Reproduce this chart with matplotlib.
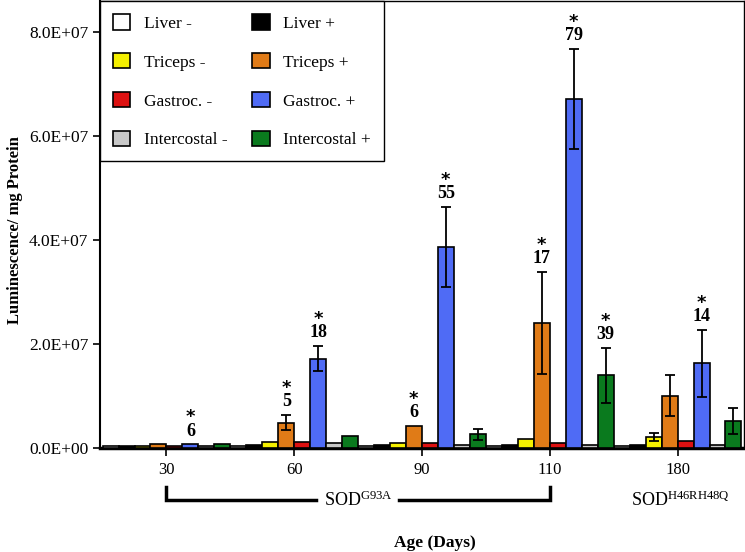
import matplotlib
matplotlib.use('Agg')
import matplotlib.pyplot as plt
import numpy as np
from matplotlib.ticker import FuncFormatter

plt.rcParams['font.family'] = 'Liberation Serif'
plt.rcParams['mathtext.fontset'] = 'custom'
plt.rcParams['mathtext.rm'] = 'Liberation Serif'
plt.rcParams['mathtext.it'] = 'Liberation Serif:italic'
plt.rcParams['mathtext.bf'] = 'DejaVu Sans:bold'

# Dados (valores em luminescência / mg proteína)
idades = ['30', '60', '90', '110', '180']
series = ['Liver -', 'Liver +', 'Triceps -', 'Triceps +',
          'Gastroc. -', 'Gastroc. +', 'Intercostal -', 'Intercostal +']
cores = ['white', 'black', '#f5f000', '#e07b17',
         '#dd1111', '#4f6bf5', '#c8c8c8', '#0a7a1e']

liver_neg = [0.3e6, 0.4e6, 0.4e6, 0.4e6, 0.4e6]
liver_pos = [0.4e6, 0.5e6, 0.5e6, 0.5e6, 0.5e6]
triceps_neg = [0.3e6, 1.15e6, 0.9e6, 1.7e6, 2.1e6]
triceps_pos = [0.7e6, 4.9e6, 4.3e6, 24.0e6, 10.1e6]
gastroc_neg = [0.35e6, 1.15e6, 0.9e6, 0.9e6, 1.4e6]
gastroc_pos = [0.7e6, 17.2e6, 38.7e6, 67.1e6, 16.3e6]
interc_neg = [0.35e6, 0.9e6, 0.5e6, 0.6e6, 0.6e6]
interc_pos = [0.7e6, 2.4e6, 2.6e6, 14.0e6, 5.1e6]

# Erros (0 = sem barra de erro)
err_triceps_neg = [0, 0, 0, 0, 0.8e6]
err_triceps_pos = [0, 1.4e6, 0, 9.8e6, 3.9e6]
err_gastroc_pos = [0, 2.4e6, 7.7e6, 9.6e6, 6.4e6]
err_interc_pos = [0, 0, 1.1e6, 5.3e6, 2.5e6]

valores = [liver_neg, liver_pos, triceps_neg, triceps_pos,
           gastroc_neg, gastroc_pos, interc_neg, interc_pos]
erros = {2: err_triceps_neg, 3: err_triceps_pos, 5: err_gastroc_pos, 7: err_interc_pos}

# Anotações de significância: (grupo, série, n)
anotacoes = [(0, 5, '6'), (1, 3, '5'), (1, 5, '18'), (2, 3, '6'), (2, 5, '55'),
             (3, 3, '17'), (3, 5, '79'), (3, 7, '39'), (4, 5, '14')]

fig = plt.figure(figsize=(7.45, 5.52), dpi=100)
ax = fig.add_axes([100/745, 1 - 448/552, 644/745, 447/552])

x = np.arange(len(idades))
largura = 0.125
barras = []
for i, (nome, cor, vals) in enumerate(zip(series, cores, valores)):
    pos = x + (i - 3.5) * largura
    b = ax.bar(pos, vals, largura, color=cor, edgecolor='black', linewidth=1.2,
               label=nome, zorder=3)
    barras.append(b)
    if i in erros:
        e = np.array(erros[i])
        m = e > 0
        ax.errorbar(pos[m], np.array(vals)[m], yerr=e[m], fmt='none',
                    ecolor='black', elinewidth=1.3, capsize=3.6, capthick=1.3, zorder=4)

for g, s, n in anotacoes:
    xp = x[g] + (s - 3.5) * largura
    topo = valores[s][g]
    if s in erros:
        topo += erros[s][g]
    ax.annotate(r'$\mathbf{*}$' + '\n' + n, (xp, topo), xytext=(0, 3.5),
                textcoords='offset points', ha='center', va='bottom',
                multialignment='center', linespacing=0.85,
                fontsize=13, fontweight='bold')

ax.set_xlim(-0.52, 4.52)
ax.set_ylim(0, 8.6e7)
ax.set_yticks([0, 2e7, 4e7, 6e7, 8e7])
ax.yaxis.set_major_formatter(FuncFormatter(lambda v, p: f'{v:.1E}'))
ax.set_xticks(x)
ax.set_xticklabels(idades)
ax.tick_params(axis='y', labelsize=12.5, length=5, width=1.2, direction='out')
ax.tick_params(axis='x', labelsize=12, length=6, width=1.2, direction='out', pad=4)
ax.spines['bottom'].set_linewidth(2.5)
ax.spines['left'].set_linewidth(1.5)
ax.spines['top'].set_linewidth(1)
ax.spines['right'].set_linewidth(1)

# Legenda em duas colunas (negativos à esquerda, positivos à direita)
ordem = [0, 2, 4, 6, 1, 3, 5, 7]
leg = ax.legend([barras[i] for i in ordem], [series[i] for i in ordem], ncol=2,
                loc='upper left', bbox_to_anchor=(0, 1), borderaxespad=0,
                fontsize=12.5, handlelength=1.0, handleheight=1.0,
                handletextpad=0.8, labelspacing=1.22, columnspacing=1.4,
                borderpad=0.75, fancybox=False, framealpha=1, edgecolor='black')
leg.get_frame().set_linewidth(1)
leg.set_zorder(5)

# Colchete SOD G93A abaixo do eixo
trans = ax.get_xaxis_transform()
y_lin = -(500 - 448) / 447
y_top = -(487 - 448) / 447
ax.plot([x[0], x[0], 1.17], [y_top, y_lin, y_lin], color='black', lw=2.5,
        transform=trans, clip_on=False, solid_joinstyle='miter')
ax.plot([1.82, x[3], x[3]], [y_lin, y_lin, y_top], color='black', lw=2.5,
        transform=trans, clip_on=False, solid_joinstyle='miter')
ax.text(1.5, y_lin, r'SOD$^{\mathrm{G93A}}$', transform=trans, ha='center',
        va='center', fontsize=13)
ax.text(4.02, y_lin, r'SOD$^{\mathrm{H46RH48Q}}$', transform=trans, ha='center',
        va='center', fontsize=13)

fig.text(435/745, 1 - 543/552, 'Age (Days)', ha='center', va='center',
         fontsize=12.5, fontweight='bold')
fig.text(15/745, 1 - 230/552, 'Luminescence/ mg Protein', ha='center', va='center',
         rotation=90, fontsize=12, fontweight='bold')

fig.savefig('out.png', dpi=100)
